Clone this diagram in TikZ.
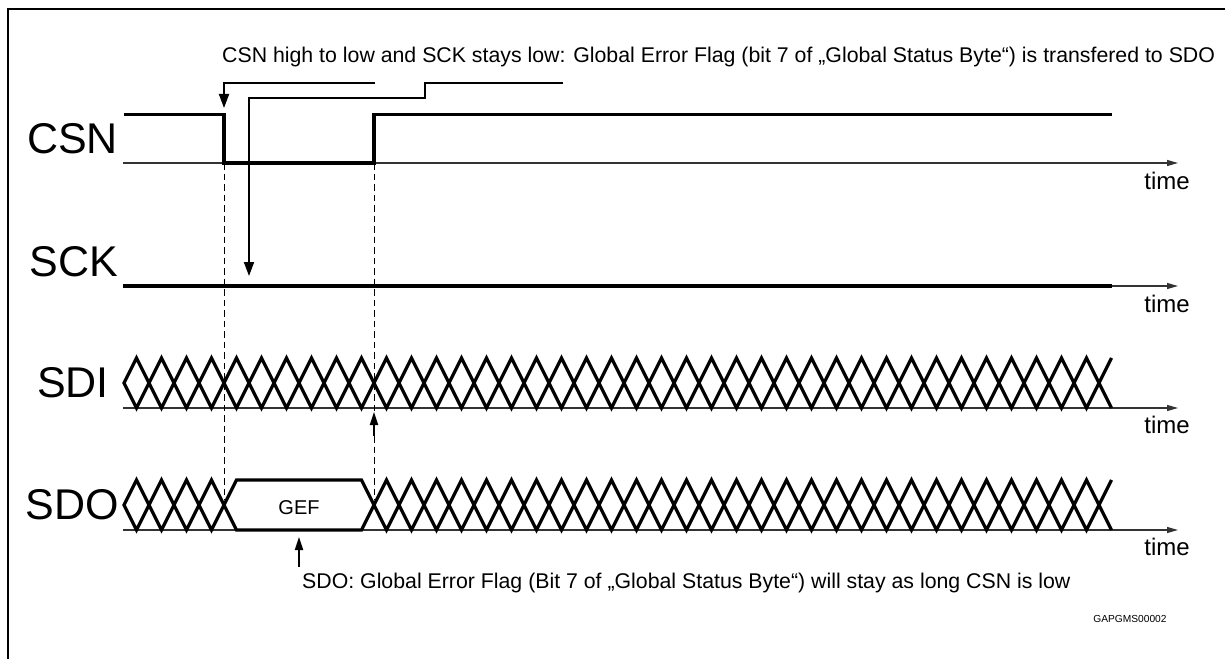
\documentclass[tikz,border=0pt]{standalone}
\usepackage{fontspec}
\setmainfont{Liberation Sans}
\usetikzlibrary{arrows.meta}
\begin{document}
\begin{tikzpicture}[x=1pt,y=-1pt,
  sig/.style={line width=3.3pt, line join=miter, line cap=butt},
  axisline/.style={line width=1.2pt, black!80, -{Triangle[length=11pt,width=6pt]}},
  annline/.style={line width=1.8pt},
  annarrow/.style={line width=1.8pt, -{Triangle[length=14pt,width=10pt]}},
  smallarrow/.style={line width=1.8pt, -{Triangle[length=13pt,width=8pt]}},
  guide/.style={line width=1pt, dash pattern=on 6.5pt off 4pt},
  lbl/.style={font=\fontsize{43}{43}\selectfont, inner sep=0pt, anchor=east},
  timelbl/.style={font=\fontsize{24}{24}\selectfont, inner sep=0pt, anchor=base},
  txt/.style={font=\fontsize{21.3}{24}\selectfont, inner sep=0pt, anchor=base west}]
\useasboundingbox (0,0) rectangle (1225,658);
% frame
\draw[line width=2.6pt] (8,680) -- (8,9) -- (1240,9);

% signal labels
\node[lbl] (lcsn) at (118,139) {CSN};
\node[lbl] (lsck) at (118,262) {SCK};
\node[lbl] (lsdi) at (109,383) {SDI};
\node[lbl] (lsdo) at (119,505) {SDO};

% time axes
\coordinate (a1s) at (123,163);   \coordinate (a1e) at (1178,163);
\coordinate (a2s) at (123,286);   \coordinate (a2e) at (1178,286);
\coordinate (a3s) at (123,408);   \coordinate (a3e) at (1178,408);
\coordinate (a4s) at (123,530);   \coordinate (a4e) at (1178,530);
\draw[axisline] (a1s) -- (a1e);
\draw[axisline] (a2s) -- (a2e);
\draw[axisline] (a3s) -- (a3e);
\draw[axisline] (a4s) -- (a4e);
\node[timelbl] (t1) at (1167,189) {time};
\node[timelbl] (t2) at (1167,312) {time};
\node[timelbl] (t3) at (1167,433) {time};
\node[timelbl] (t4) at (1167,555) {time};

% dashed guides
\coordinate (fallB) at (224,163);
\coordinate (riseB) at (374,163);
\coordinate (g1e) at (224,500);
\coordinate (g2e) at (374,500);
\draw[guide] (fallB) -- (g1e);
\draw[guide] (riseB) -- (g2e);

% CSN
\coordinate (csnA) at (124,114.5);
\coordinate (fallT) at (224,114.5);
\coordinate (riseT) at (374,114.5);
\coordinate (csnB) at (1112,114.5);
\draw[sig] (csnA) -- (fallT) -- (fallB) -- (riseB) -- (riseT) -- (csnB);

% SCK
\coordinate (sckA) at (123,286);
\coordinate (sckB) at (1112,286);
\draw[sig] (sckA) -- (sckB);

% SDI bus
\draw[sig] ({136.5+25*39},{383-25*(2*mod(39,2)-1)})
  \foreach \j in {38,37,...,0} { -- ({136.5+25*\j},{383-25*(2*mod(\j,2)-1)}) }
  -- (124,383)
  \foreach \j in {0,...,39} { -- ({136.5+25*\j},{383+25*(2*mod(\j,2)-1)}) };

% SDO bus with GEF
\draw[sig] ({136.5+25*39},{505-25*(1-2*mod(39,2))})
  \foreach \j in {38,37,...,10} { -- ({136.5+25*\j},{505-25*(1-2*mod(\j,2))}) }
  -- (361.5,530) -- (236.5,530)
  \foreach \j in {4,3,...,0} { -- ({136.5+25*\j},{505-25*(2*mod(\j,2)-1)}) }
  -- (124,505)
  \foreach \j in {0,...,4} { -- ({136.5+25*\j},{505+25*(2*mod(\j,2)-1)}) }
  -- (361.5,480)
  \foreach \j in {10,...,39} { -- ({136.5+25*\j},{505+25*(1-2*mod(\j,2))}) };
\node[font=\fontsize{20}{20}\selectfont, inner sep=0pt, anchor=base] (gef) at (299,514) {GEF};

% top annotation
\node[txt] (toptxt) at (222,63) {CSN high to low and SCK stays low: Global Error Flag (bit 7 of „Global Status Byte“) is transfered to SDO};
\coordinate (n1a) at (375,83);
\coordinate (n1b) at (224,83);
\coordinate (n1c) at (224,108);
\draw[annarrow] (n1a) -- (n1b) -- (n1c);
\coordinate (n2a) at (563,83);
\coordinate (n2b) at (425,83);
\coordinate (n2c) at (425,98);
\coordinate (n2d) at (249,98);
\coordinate (n2e) at (249,276);
\draw[annarrow] (n2a) -- (n2b) -- (n2c) -- (n2d) -- (n2e);

% SDI up arrow
\coordinate (u1a) at (374,436);
\coordinate (u1b) at (374,412);
\draw[smallarrow] (u1a) -- (u1b);

% GEF arrow and bottom text
\coordinate (u2a) at (299,567);
\coordinate (u2b) at (299,537);
\draw[smallarrow] (u2a) -- (u2b);
\node[txt] (bottxt) at (302,588.5) {SDO: Global Error Flag (Bit 7 of „Global Status Byte“) will stay as long CSN is low};

\node[font=\fontsize{10.2}{10.2}\selectfont, inner sep=0pt, anchor=base] (code) at (1130,622.5) {GAPGMS00002};
\end{tikzpicture}
\end{document}
